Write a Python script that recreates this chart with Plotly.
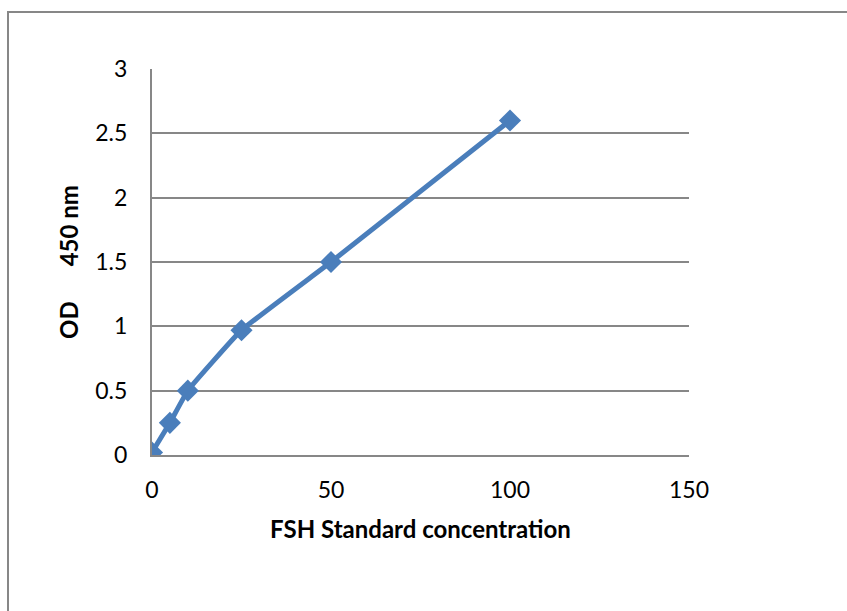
import plotly.graph_objects as go

# FSH standard curve
concentration = [0, 5, 10, 25, 50, 100]
od_450 = [0.02, 0.25, 0.50, 0.97, 1.50, 2.60]

x_ticks = [0, 50, 100, 150]
y_ticks = [0, 0.5, 1, 1.5, 2, 2.5, 3]
y_tick_text = ["0", "0.5", "1", "1.5", "2", "2.5", "3"]

W, H = 847, 611
ML, MR, MT, MB = 152, 158, 69, 156
FONT = "Lato"
GRAY = "#878787"
BLUE = "#4A7EBB"

fig = go.Figure()
fig.add_trace(go.Scatter(
    x=concentration, y=od_450,
    mode="lines+markers",
    line=dict(color=BLUE, width=5, shape="spline", smoothing=0.3),
    marker=dict(symbol="diamond", size=17, color=BLUE),
    showlegend=False,
))

pw = W - ML - MR
ph = H - MT - MB
# chart-area frame (extends past the right and bottom edges)
fig.add_shape(type="rect", xref="paper", yref="paper",
              x0=(8 - ML) / pw, x1=(W + 5 - ML) / pw,
              y0=(H - MB - (H + 5)) / ph, y1=(H - MB - 12) / ph,
              line=dict(color=GRAY, width=2), layer="below")

fig.update_layout(
    width=W, height=H,
    margin=dict(l=ML, r=MR, t=MT, b=MB),
    paper_bgcolor="white", plot_bgcolor="white",
    font=dict(family=FONT, color="black", size=23),
    xaxis=dict(
        range=[0, 150], tickvals=x_ticks, showgrid=False,
        showline=True, linecolor=GRAY, linewidth=2,
        ticks="", ticklabelstandoff=13, zeroline=False,
        tickfont=dict(size=23),
        title=dict(text="<b>FSH Standard concentration</b>",
                   font=dict(size=24), standoff=20),
    ),
    yaxis=dict(
        range=[0, 3], tickvals=y_ticks, ticktext=y_tick_text,
        showgrid=True, gridcolor=GRAY, gridwidth=1.5,
        showline=True, linecolor=GRAY, linewidth=2,
        ticks="", ticklabelstandoff=18, zeroline=False,
        tickfont=dict(size=23),
        title=dict(text="<b>OD" + "\u00a0" * 6 + "450 nm</b>",
                   font=dict(size=24), standoff=10),
    ),
)

fig.write_html("out.html")
